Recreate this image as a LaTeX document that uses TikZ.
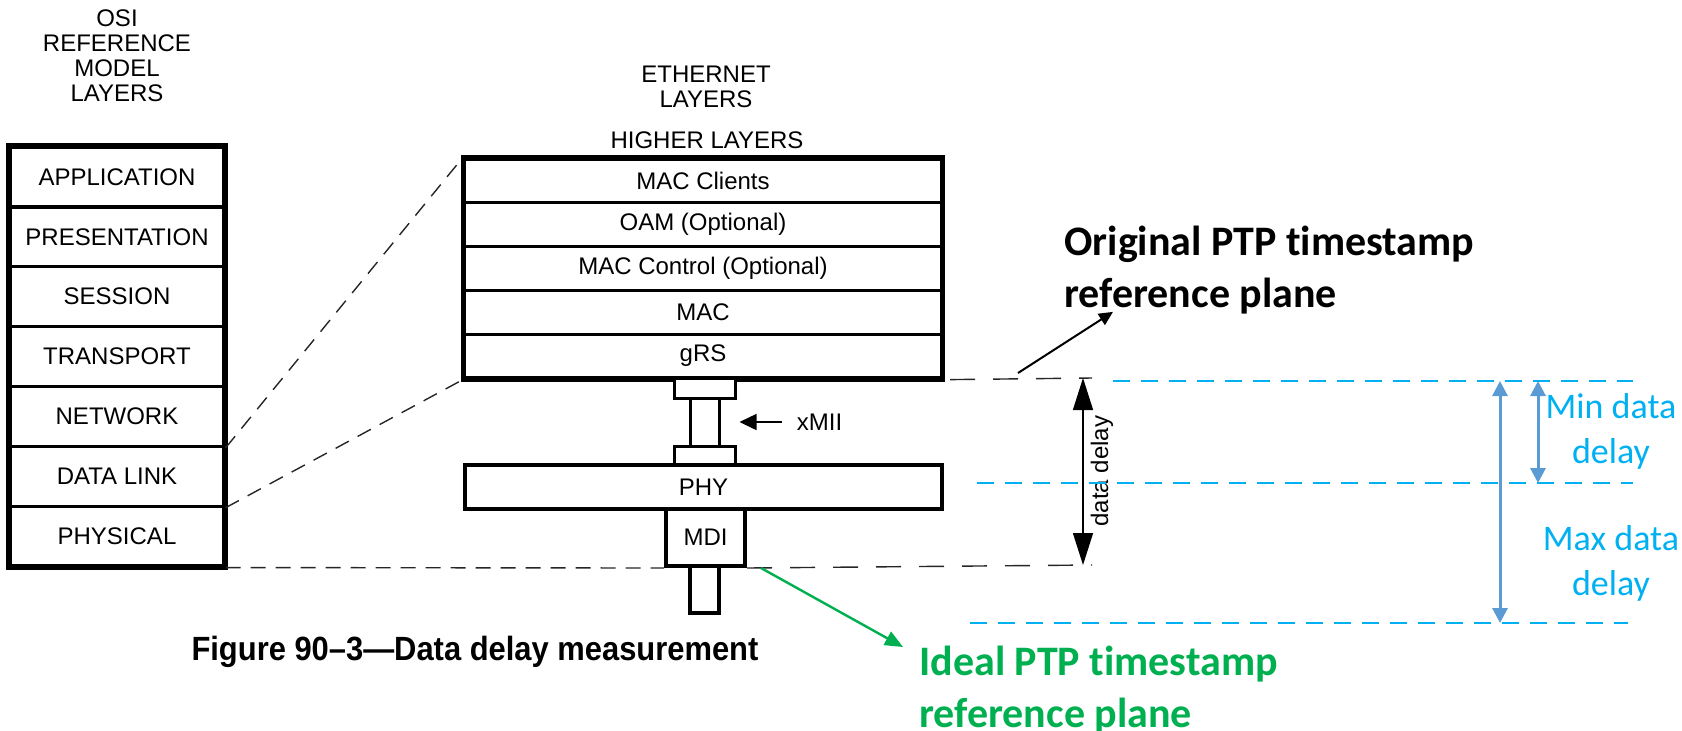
\documentclass[tikz,border=0pt]{standalone}
\usepackage{fontspec}
\setmainfont{Liberation Sans}
\newfontfamily\ptpfont[Ligatures={NoCommon,NoContextual}]{Carlito}
\newfontfamily\captionfont[FakeStretch=0.92]{Liberation Sans}
\usetikzlibrary{arrows.meta}

\definecolor{planeblue}{HTML}{00B0F0}
\definecolor{delayblue}{HTML}{5B9BD5}
\definecolor{idealgreen}{HTML}{00B050}

\begin{document}
\begin{tikzpicture}[x=0.5pt, y=-0.5pt,
    layerfont/.style={font=\fontsize{12}{12.5}\selectfont},
    osilayer/.style={draw, line width=1.6pt, minimum width=107pt, minimum height=29.9pt, inner sep=0pt, layerfont},
    ethlayer/.style={draw, line width=1.6pt, minimum width=238.5pt, minimum height=21.9pt, inner sep=0pt, layerfont},
    part/.style={draw, fill=white, line width=1.5pt, inner sep=0pt},
    refline/.style={black!85, line width=0.7pt, dash pattern=on 7.5pt off 5pt},
    longref/.style={black!85, line width=0.7pt, dash pattern=on 12.5pt off 9pt},
    planeline/.style={planeblue, line width=1.3pt, dash pattern=on 8.5pt off 5.5pt},
    arrow/.style={-{Triangle[length=8.5pt, width=8pt]}, line width=0.75pt},
    delayarrow/.style={{Triangle[length=7.5pt, width=7.5pt]}-{Triangle[length=7.5pt, width=7.5pt]}, delayblue, line width=1.5pt},
    ptptext/.style={align=left, anchor=north west, inner sep=0pt, font=\ptpfont\bfseries\fontsize{21}{26}\selectfont},
    mintext/.style={align=center, planeblue, inner sep=0pt, font=\ptpfont\fontsize{18}{22.5}\selectfont}
]
    \useasboundingbox (0,0) rectangle (1682,730);

    % Titles
    \node[align=center, layerfont] (osititle) at (117,56) {OSI\\REFERENCE\\MODEL\\LAYERS};
    \node[align=center, layerfont] (ethtitle) at (706,87) {ETHERNET\\LAYERS};
    \node[layerfont] (higher) at (707,140) {HIGHER LAYERS};

    % OSI stack
    \foreach \name/\txt [count=\k] in {app/APPLICATION, pres/PRESENTATION, sess/SESSION, trans/TRANSPORT, net/NETWORK, link/DATA LINK, phys/PHYSICAL}
        \node[osilayer] (\name) at (117, 147+59.85*\k-29.9) {\txt};
    \draw[line width=2pt] (app.north west) rectangle (phys.south east);

    % Ethernet stack
    \foreach \name/\txt [count=\k] in {clients/MAC Clients, oam/OAM (Optional), ctrl/MAC Control (Optional), mac/MAC, grs/gRS}
        \node[ethlayer] (\name) at (703, 159+43.8*\k-21.9) {\txt};
    \draw[line width=2pt] (clients.north west) rectangle (grs.south east);

    % xMII, PHY and MDI
    \node[part, minimum width=14.5pt, minimum height=24pt] (miistem) at (704.5,422) {};
    \node[part, minimum width=30.5pt, minimum height=10pt] (padtop) at (704.5,388) {};
    \node[part, minimum width=30.5pt, minimum height=9.5pt] (padbot) at (704.5,455.5) {};
    \node[part, line width=2pt, minimum width=14.5pt, minimum height=23.5pt] (cable) at (704.5,589.5) {};
    \node[ethlayer, fill=white, line width=2pt, minimum height=22pt] (phy) at (703.5,487) {PHY};
    \node[part, line width=2pt, minimum width=39.5pt, minimum height=28.5pt, layerfont] (mdi) at (705.5,537.5) {MDI};

    \node[anchor=west, inner sep=0pt, layerfont] (xmiilabel) at ([xshift=38pt]miistem.east) {xMII};
    \draw[arrow] ([xshift=-7.5pt]xmiilabel.west) -- ([xshift=9.5pt]miistem.east);

    % Mapping lines
    \draw[refline] (net.south east) -- (clients.north west);
    \draw[refline] (link.south east) -- (grs.south west);
    \draw[refline] (phys.south east) -- (mdi.south west);

    % Data delay
    \coordinate (ddtop) at (1083,378);
    \coordinate (ddbot) at (1083,565);
    \draw[longref] ([xshift=3.5pt]grs.south east) -- ([xshift=4.5pt]ddtop);
    \draw[longref] (mdi.south east) -- ([xshift=4.5pt]ddbot);
    \draw[{Triangle[length=16pt, width=10pt]}-{Triangle[length=16pt, width=10pt]}, line width=0.7pt] (ddtop) -- (ddbot);
    \node[rotate=90, layerfont] (ddlabel) at (1102,471) {data delay};

    % Reference planes
    \coordinate (topstart) at (1113,381);
    \coordinate (topend) at (1633,381);
    \coordinate (midstart) at (977,483);
    \coordinate (midend) at (1633,483);
    \coordinate (botstart) at (970,623);
    \coordinate (botend) at (1628,623);
    \draw[planeline] (topstart) -- (topend);
    \draw[planeline] (midstart) -- (midend);
    \draw[planeline] (botstart) -- (botend);

    \coordinate (maxtop) at (1500,381);
    \coordinate (maxbot) at (1500,623);
    \coordinate (mintop) at (1538,381);
    \coordinate (minbot) at (1538,483);
    \draw[delayarrow] (maxtop) -- (maxbot);
    \draw[delayarrow] (mintop) -- (minbot);
    \node[mintext] (mintxt) at (1611,431) {Min data\\delay};
    \node[mintext] (maxtxt) at (1611,563) {Max data\\delay};

    % PTP labels
    \node[ptptext] (orig) at (1064,226) {Original PTP timestamp\\reference plane};
    \coordinate (origfoot) at (1018,373);
    \draw[-{Triangle[length=7pt, width=6.5pt]}, line width=1pt] (origfoot) -- ([xshift=24.5pt, yshift=1.5pt]orig.south west);

    \node[ptptext, idealgreen] (ideal) at (919,646) {Ideal PTP timestamp\\reference plane};
    \draw[-{Triangle[length=9pt, width=7.5pt]}, idealgreen, line width=1.2pt] ([xshift=7pt]mdi.south east) -- ([xshift=-8pt, yshift=-0.5pt]ideal.north west);

    % Caption
    \node[font=\captionfont\bfseries\fontsize{16.8}{20}\selectfont] (caption) at (475,652) {Figure 90–3—Data delay measurement};
\end{tikzpicture}
\end{document}
